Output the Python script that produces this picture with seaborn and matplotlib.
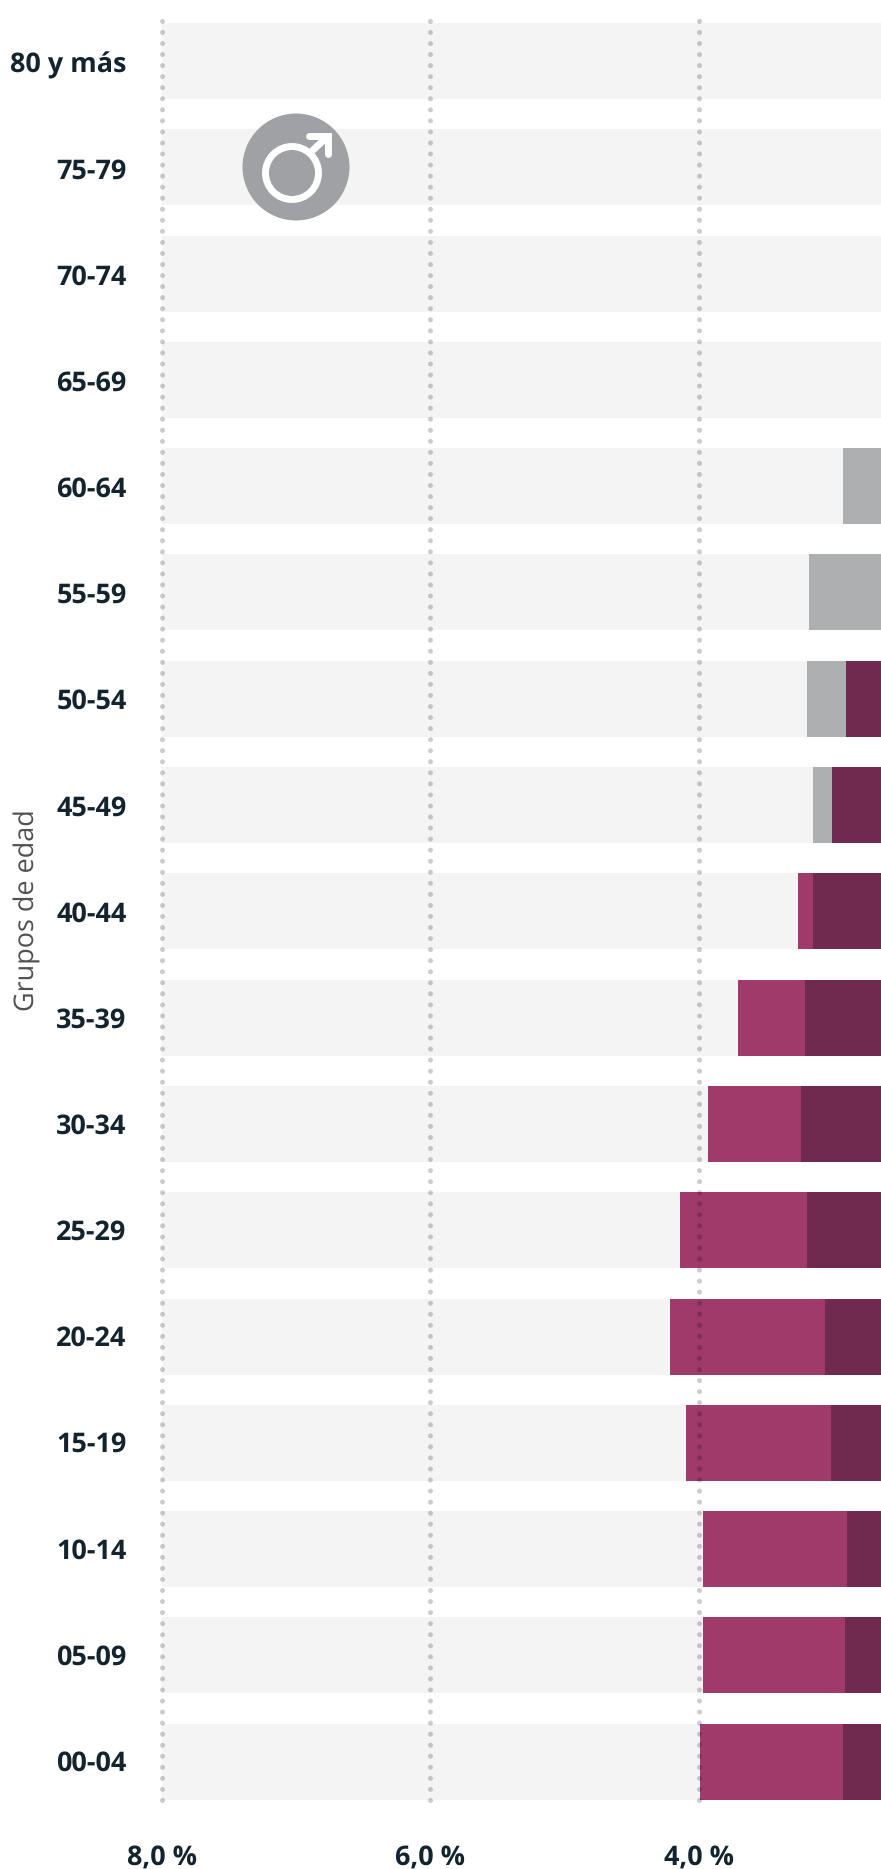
import seaborn as sns
import pandas as pd
import matplotlib.pyplot as plt
from matplotlib.patches import Circle

grupos = ["80 y más", "75-79", "70-74", "65-69", "60-64", "55-59", "50-54", "45-49", "40-44",
          "35-39", "30-34", "25-29", "20-24", "15-19", "10-14", "05-09", "00-04"]

# valores (% de poblacion, hombres)
fondo = [8.0] * 17
gris = [None, None, None, None, 2.925, 3.18, 3.195, 3.15, None,
        None, None, None, None, None, None, None, None]
rosa = [None, None, None, None, None, None, None, None, 3.265,
        3.71, 3.93, 4.14, 4.215, 4.10, 3.97, 3.97, 3.99]
oscuro = [None, None, None, None, None, None, 2.905, 3.01, 3.15,
          3.21, 3.24, 3.195, 3.06, 3.015, 2.895, 2.91, 2.925]
ticks_x = [8, 6, 4]
ticks_x_labels = ["8,0 %", "6,0 %", "4,0 %"]

df = pd.DataFrame({"grupo": grupos, "fondo": fondo, "gris": gris, "rosa": rosa, "oscuro": oscuro})

sns.set_theme(style="white")
plt.rcParams["font.family"] = ["Open Sans", "DejaVu Sans"]
plt.rcParams["text.hinting"] = "no_hinting"
plt.rcParams["text.hinting_factor"] = 1

W, H = 881, 1869
fig = plt.figure(figsize=(W / 100, H / 100), dpi=100)
ax = fig.add_axes([162 / W, 1 - 1800 / H, (W - 162) / W, (1800 - 14) / H])

ancho = 76 / 106.3
for col, color in [("fondo", "#f4f4f4"), ("gris", "#aeafb1"), ("rosa", "#9f3a6a"), ("oscuro", "#70294f")]:
    sns.barplot(data=df, y="grupo", x=col, order=grupos, color=color, width=ancho,
                errorbar=None, saturation=1, linewidth=0, ax=ax)

ax.set_xlim(8, 2.644)
ax.set_ylim(16.36, -0.442)
ax.set_xticks(ticks_x)
ax.set_xticklabels(ticks_x_labels, fontsize=19.2, fontweight="bold", color="#14242e")
# las etiquetas del original quedan un poco mas juntas que las bandas
ax.set_yticks([i * 0.9986 + 0.01 for i in range(len(grupos))])
ax.set_yticklabels(grupos, fontsize=19.2, fontweight="bold", color="#14242e")
ax.tick_params(axis="x", length=0, pad=32.5)
ax.tick_params(axis="y", length=0, pad=25.5)
ax.set_xlabel("")
ax.set_ylabel("")
sns.despine(ax=ax, left=True, bottom=True)

# lineas punteadas, negro transparente para que oscurezcan las barras
for t in ticks_x:
    ax.axvline(t, color="black", alpha=0.2, linewidth=3.6, dash_capstyle="round",
               linestyle=(0, (0.01, 2.2)), clip_on=False, zorder=5)

fig.text(27 / W, 1 - 910 / H, "Grupos de edad", rotation=90, fontsize=19.3, color="#505050",
         ha="center", va="center")

# icono masculino
icono = fig.add_axes([0, 0, 1, 1], facecolor="none")
icono.set_xlim(0, W)
icono.set_ylim(H, 0)
icono.axis("off")
icono.add_patch(Circle((296, 167), 53.5, color="#a0a1a4", lw=0))
icono.add_patch(Circle((292, 173), 26.5, facecolor="none", edgecolor="white", lw=5))
icono.plot([311, 327], [152, 137], color="white", lw=5, solid_capstyle="butt")
icono.plot([309, 327.5, 327.5], [136, 136, 154], color="white", lw=5,
           solid_capstyle="round", solid_joinstyle="miter")

plt.savefig("out.png", dpi=100)
plt.close()
